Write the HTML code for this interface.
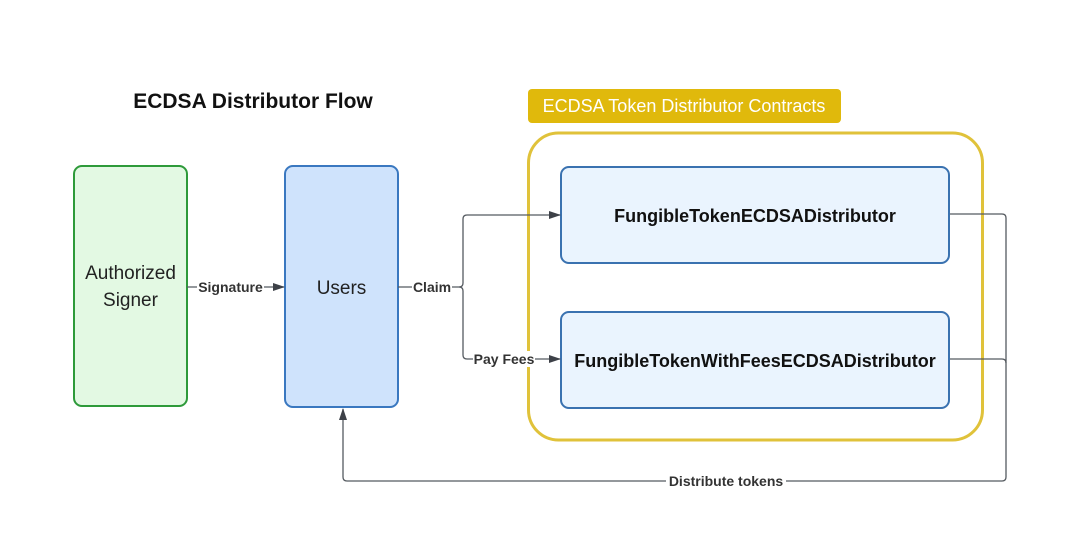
<!DOCTYPE html>
<html><head><meta charset="utf-8"><style>
html,body{margin:0;padding:0;background:#fff;}
svg{display:block;font-family:"Liberation Sans",sans-serif;}
</style></head><body>
<svg width="1080" height="535" viewBox="0 0 1080 535" xmlns="http://www.w3.org/2000/svg">
<defs><marker id="a" markerWidth="12" markerHeight="10" refX="11" refY="5" orient="auto" markerUnits="userSpaceOnUse"><path d="M0,1 L12,5 L0,9 z" fill="#3d4148"/></marker></defs>
<text x="253" y="108" text-anchor="middle" font-size="21" font-weight="bold" fill="#111">ECDSA Distributor Flow</text>
<rect x="528" y="89" width="313" height="34" rx="4" fill="#e0b90c"/>
<text x="684" y="112" text-anchor="middle" font-size="18" fill="#fff">ECDSA Token Distributor Contracts</text>
<rect x="528.5" y="133" width="454" height="307" rx="30" fill="none" stroke="#e0c23a" stroke-width="3"/>
<rect x="74" y="166" width="113" height="240" rx="8" fill="#e3f9e3" stroke="#2e9a3a" stroke-width="2"/>
<text x="130.5" y="279" text-anchor="middle" font-size="19" fill="#222">Authorized</text>
<text x="130.5" y="306" text-anchor="middle" font-size="19" fill="#222">Signer</text>
<rect x="285" y="166" width="113" height="241" rx="8" fill="#cfe3fc" stroke="#3a78c0" stroke-width="2"/>
<text x="341.5" y="294" text-anchor="middle" font-size="19" fill="#222">Users</text>
<rect x="561" y="167" width="388" height="96" rx="8" fill="#eaf4fe" stroke="#3a72b0" stroke-width="2"/>
<text x="755" y="222" text-anchor="middle" font-size="18" font-weight="bold" fill="#111">FungibleTokenECDSADistributor</text>
<rect x="561" y="312" width="388" height="96" rx="8" fill="#eaf4fe" stroke="#3a72b0" stroke-width="2"/>
<text x="755" y="367" text-anchor="middle" font-size="18" font-weight="bold" fill="#111">FungibleTokenWithFeesECDSADistributor</text>
<g fill="none" stroke="#555a60" stroke-width="1.3">
<path d="M187 287 H284" marker-end="url(#a)"/>
<path d="M398 287 H459 Q463 287 463 283 V219 Q463 215 467 215 H560" marker-end="url(#a)"/>
<path d="M459 287 Q463 287 463 291 V355 Q463 359 467 359 H560" marker-end="url(#a)"/>
<path d="M950 214 H1002 Q1006 214 1006 218 V477 Q1006 481 1002 481 H347 Q343 481 343 477 V409" marker-end="url(#a)"/>
<path d="M950 359 H1002 Q1006 359 1006 363"/>
</g>
<g font-size="14" font-weight="bold" fill="#333" text-anchor="middle">
<rect x="197" y="279" width="67" height="16" fill="#fff"/><text x="230.5" y="292">Signature</text>
<rect x="412" y="279" width="40" height="16" fill="#fff"/><text x="432" y="292">Claim</text>
<rect x="473" y="351" width="62" height="16" fill="#fff"/><text x="504" y="364">Pay Fees</text>
<rect x="666" y="473" width="120" height="16" fill="#fff"/><text x="726" y="486">Distribute tokens</text>
</g>
</svg>
</body></html>
